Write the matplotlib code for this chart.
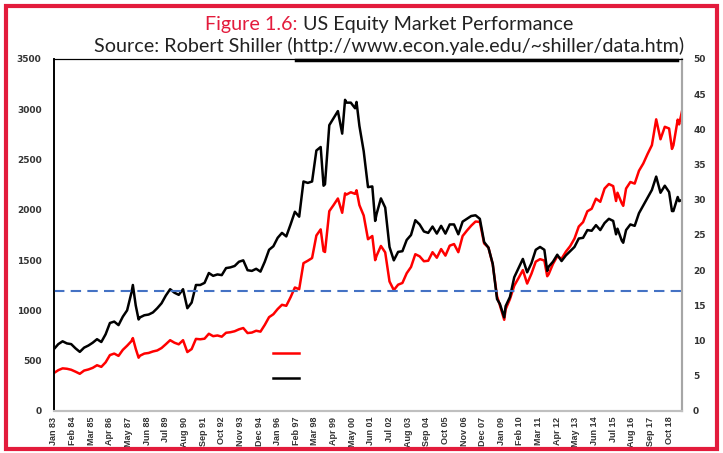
import numpy as np
import matplotlib
matplotlib.use("Agg")
import matplotlib.pyplot as plt
from matplotlib.patches import Rectangle
from matplotlib.lines import Line2D

months = [
    "1983-01", "1983-04", "1983-07", "1983-10", "1984-01", "1984-04", "1984-07", "1984-10",
    "1985-01", "1985-04", "1985-07", "1985-10", "1986-01", "1986-04", "1986-07", "1986-10",
    "1987-01", "1987-04", "1987-07", "1987-08", "1987-10", "1987-12", "1988-01", "1988-04",
    "1988-07", "1988-10", "1989-01", "1989-04", "1989-07", "1989-10", "1990-01", "1990-04",
    "1990-07", "1990-10", "1991-01", "1991-04", "1991-07", "1991-10", "1992-01", "1992-04",
    "1992-07", "1992-10", "1993-01", "1993-04", "1993-07", "1993-10", "1994-01", "1994-04",
    "1994-07", "1994-10", "1995-01", "1995-04", "1995-07", "1995-10", "1996-01", "1996-04",
    "1996-07", "1996-10", "1997-01", "1997-04", "1997-07", "1997-10", "1998-01", "1998-04",
    "1998-07", "1998-09", "1998-10", "1999-01", "1999-04", "1999-07", "1999-10", "1999-12",
    "2000-01", "2000-04", "2000-07", "2000-08", "2000-10", "2001-01", "2001-04", "2001-07",
    "2001-09", "2001-10", "2002-01", "2002-04", "2002-07", "2002-10", "2003-01", "2003-04",
    "2003-07", "2003-10", "2004-01", "2004-04", "2004-07", "2004-10", "2005-01", "2005-04",
    "2005-07", "2005-10", "2006-01", "2006-04", "2006-07", "2006-10", "2007-01", "2007-04",
    "2007-07", "2007-10", "2008-01", "2008-04", "2008-07", "2008-10", "2008-12", "2009-03",
    "2009-04", "2009-07", "2009-10", "2010-01", "2010-04", "2010-07", "2010-10", "2011-01",
    "2011-04", "2011-07", "2011-09", "2011-10", "2012-01", "2012-04", "2012-07", "2012-10",
    "2013-01", "2013-04", "2013-07", "2013-10", "2014-01", "2014-04", "2014-07", "2014-10",
    "2015-01", "2015-04", "2015-07", "2015-09", "2015-10", "2016-01", "2016-02", "2016-04",
    "2016-07", "2016-10", "2017-01", "2017-04", "2017-07", "2017-10", "2018-01", "2018-04",
    "2018-07", "2018-10", "2018-12", "2019-01", "2019-04", "2019-05", "2019-07",
]

real_price = [
    378, 406, 424, 420, 410, 391, 370, 402,
    413, 429, 455, 439, 484, 556, 571, 548,
    608, 649, 695, 725, 619, 530, 550, 571,
    577, 592, 602, 626, 664, 704, 679, 663,
    704, 586, 616, 717, 713, 719, 768, 744,
    751, 739, 778, 783, 793, 812, 825, 775,
    780, 798, 789, 856, 933, 962, 1014, 1056,
    1046, 1131, 1228, 1211, 1470, 1494, 1521, 1745,
    1806, 1590, 1581, 1987, 2048, 2113, 1971, 2164,
    2152, 2175, 2159, 2195, 2047, 1944, 1708, 1740,
    1500, 1544, 1641, 1577, 1288, 1202, 1256, 1273,
    1370, 1432, 1559, 1538, 1489, 1494, 1579, 1524,
    1610, 1545, 1644, 1660, 1579, 1740, 1794, 1843,
    1884, 1880, 1666, 1626, 1457, 1140, 1050, 907,
    1012, 1113, 1246, 1322, 1401, 1267, 1365, 1485,
    1510, 1496, 1340, 1360, 1462, 1538, 1514, 1584,
    1639, 1714, 1834, 1878, 1986, 2011, 2111, 2080,
    2212, 2257, 2236, 2088, 2170, 2065, 2040, 2212,
    2277, 2261, 2389, 2461, 2556, 2643, 2900, 2702,
    2826, 2809, 2606, 2641, 2897, 2850, 2980,
]

cape = [
    8.8, 9.5, 9.9, 9.6, 9.5, 8.9, 8.4, 9.0,
    9.3, 9.7, 10.2, 9.8, 10.9, 12.5, 12.7, 12.2,
    13.4, 14.3, 16.8, 17.9, 15.0, 13.0, 13.3, 13.6,
    13.7, 14.0, 14.6, 15.3, 16.4, 17.3, 16.8, 16.5,
    17.3, 14.6, 15.4, 17.9, 17.9, 18.2, 19.6, 19.2,
    19.4, 19.3, 20.3, 20.4, 20.6, 21.2, 21.4, 20.0,
    19.9, 20.2, 19.8, 21.2, 22.9, 23.4, 24.6, 25.3,
    24.8, 26.5, 28.3, 27.6, 32.6, 32.4, 32.6, 37.0,
    37.5, 32.0, 32.2, 40.6, 41.6, 42.6, 39.4, 44.2,
    43.8, 43.8, 43.0, 43.9, 40.5, 36.9, 31.8, 31.9,
    27.0, 28.0, 30.2, 28.9, 23.3, 21.4, 22.6, 22.7,
    24.3, 25.0, 27.1, 26.5, 25.5, 25.3, 26.2, 25.2,
    26.3, 25.2, 26.5, 26.5, 25.1, 26.9, 27.3, 27.7,
    27.8, 27.3, 24.0, 23.2, 20.9, 15.9, 15.2, 13.3,
    14.9, 16.2, 19.0, 20.3, 21.6, 19.7, 21.0, 22.9,
    23.3, 22.9, 19.9, 20.5, 21.2, 22.2, 21.3, 22.1,
    22.7, 23.3, 24.5, 24.6, 25.7, 25.6, 26.4, 25.7,
    26.7, 27.3, 27.0, 25.1, 25.9, 24.2, 23.9, 25.7,
    26.5, 26.3, 28.1, 29.2, 30.3, 31.4, 33.3, 31.0,
    32.0, 31.1, 28.4, 28.4, 30.4, 29.8, 30.0,
]

cape_average = 17

tick_labels = [
    "Jan 83", "Feb 84", "Mar 85", "Apr 86", "May 87", "Jun 88", "Jul 89", "Aug 90",
    "Sep 91", "Oct 92", "Nov 93", "Dec 94", "Jan 96", "Feb 97", "Mar 98", "Apr 99",
    "May 00", "Jun 01", "Jul 02", "Aug 03", "Sep 04", "Oct 05", "Nov 06", "Dec 07",
    "Jan 09", "Feb 10", "Mar 11", "Apr 12", "May 13", "Jun 14", "Jul 15", "Aug 16",
    "Sep 17", "Oct 18",
]

# month index from Jan 1983
x = np.array([(int(m[:4]) - 1983) * 12 + int(m[5:]) - 1 for m in months])
n_months = x[-1]

crimson = "#E31B3C"
W, H = 723, 453
fig = plt.figure(figsize=(W / 100, H / 100), dpi=100)
ax = fig.add_axes([54 / W, 1 - 411 / H, (682 - 54) / W, (411 - 59) / H])
ax2 = ax.twinx()

red_line, = ax.plot(x, real_price, color="#FF0000", lw=1.8)
black_line, = ax2.plot(x, cape, color="black", lw=1.8)
ax2.axhline(cape_average, color="#4472C4", lw=1.5, ls=(0, (5, 3)))

ax.set_xlim(0, n_months)
ax.set_ylim(0, 3500)
ax2.set_ylim(0, 50)
ax.set_yticks(np.arange(0, 3501, 500))
ax2.set_yticks(np.arange(0, 51, 5))
ax.set_xticks(np.arange(len(tick_labels)) * 13)
ax.set_xticklabels(tick_labels, rotation=90, fontsize=6.5, fontweight="bold",
                   family=["Liberation Sans", "DejaVu Sans"], color="#333333")

for a in (ax, ax2):
    a.tick_params(axis="y", length=0, labelsize=6.5, colors="#333333")
    for lab in a.get_yticklabels():
        lab.set_fontweight("bold")
ax.tick_params(axis="y", pad=9)
ax2.tick_params(axis="y", pad=8)
ax.tick_params(axis="x", length=0, pad=4)

for a in (ax, ax2):
    a.spines["left"].set_color("black")
    a.spines["left"].set_linewidth(1.2)
    a.spines["top"].set_color("black")
    a.spines["top"].set_linewidth(0.8)
    a.spines["right"].set_color("#A6A6A6")
    a.spines["right"].set_linewidth(1.5)
    a.spines["bottom"].set_color("#BFBFBF")
    a.spines["bottom"].set_linewidth(1.5)

# legend without text
ax2.legend(handles=[red_line, black_line], labels=[" ", " "], frameon=False,
           loc="upper left", bbox_to_anchor=(266 / W, 1 - 340 / H),
           bbox_transform=fig.transFigure, handlelength=1.9, fontsize=10,
           labelspacing=0.8, borderpad=0, handletextpad=0.2)

# title, two lines, first part red
title_font = dict(fontsize=14.2, family=["Lato", "DejaVu Sans"])
renderer = fig.canvas.get_renderer()
probe = fig.text(389 / W, 1 - 30 / H, "Figure 1.6: US Equity Market Performance",
                 ha="center", va="baseline", alpha=0, **title_font)
left = probe.get_window_extent(renderer).x0 / W
part1 = fig.text(left, 1 - 30 / H, "Figure 1.6:", color=crimson, ha="left",
                 va="baseline", **title_font)
right1 = part1.get_window_extent(renderer).x1 / W
fig.text(right1, 1 - 30 / H, " US Equity Market Performance", color="#222222",
         ha="left", va="baseline", **title_font)
fig.text(389 / W, 1 - 52 / H,
         "Source: Robert Shiller (http://www.econ.yale.edu/~shiller/data.htm)",
         ha="center", va="baseline", color="#222222", **title_font)

# thick underline under the source line
fig.add_artist(Line2D([296 / W, 677 / W], [1 - 60 / H, 1 - 60 / H], color="black",
                      lw=2.5, transform=fig.transFigure))

# red frame around the whole figure
fig.patches.append(Rectangle((5.5 / W, 4 / H), (717 - 5.5) / W, (449 - 6) / H,
                             transform=fig.transFigure, fill=False, ec=crimson, lw=3))

fig.savefig("out.png", dpi=100)
